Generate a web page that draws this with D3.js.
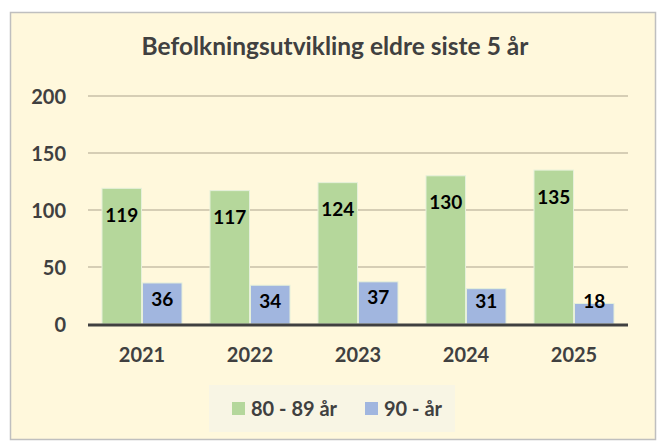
<!DOCTYPE html>
<html><head><meta charset="utf-8">
<script src="https://cdn.jsdelivr.net/npm/d3@7"></script>
<style>body{margin:0;background:#fff}svg{display:block}</style>
</head><body>
<script>
const years = ["2021","2022","2023","2024","2025"];
const seriesNames = ["80 - 89 år","90 - år"];
const age80 = [119,117,124,130,135];
const age90 = [36,34,37,31,18];
const yTicks = [0,50,100,150,200];
const title = "Befolkningsutvikling eldre siste 5 år";

const W=661,H=441;
const font = "Lato, 'Open Sans', sans-serif";
const colors = ["#B5D79B","#A1B6DF"];
const svg = d3.select("body").append("svg").attr("width",W).attr("height",H);
svg.append("rect").attr("x",10.5).attr("y",12.5).attr("width",645).attr("height",427)
  .attr("fill","#FFF8DC").attr("stroke","#BFBFBF").attr("stroke-width",1.5);

const x0 = d3.scaleBand().domain(years).range([88,628]).paddingInner(0.25).paddingOuter(0.125);
const x1 = d3.scaleBand().domain(seriesNames).range([0,x0.bandwidth()]);
const y = d3.scaleLinear().domain([0,200]).range([324,96]);

svg.append("text").attr("x",335).attr("y",55).attr("text-anchor","middle")
  .attr("font-family",font).attr("font-weight","bold").attr("font-size",24.5).attr("fill","#404040").text(title);

// gridlines
svg.append("g").selectAll("line").data(yTicks.filter(d=>d>0)).join("line")
  .attr("x1",88).attr("x2",628).attr("y1",d=>y(d)).attr("y2",d=>y(d))
  .attr("stroke","#C9C0A8").attr("stroke-width",1.3);

// y axis
const yAxis = svg.append("g").attr("transform","translate(66,0)")
  .call(d3.axisLeft(y).tickValues(yTicks).tickSize(0).tickPadding(0));
yAxis.select(".domain").remove();
yAxis.selectAll("text").attr("font-family",font).attr("font-weight","bold").attr("font-size",20).attr("fill","#404040").attr("dy","0.35em");

const data = years.map((yr,i)=>({yr, vals:[age80[i],age90[i]]}));
const g = svg.append("g").selectAll("g").data(data).join("g").attr("transform",d=>`translate(${x0(d.yr)},0)`);
g.selectAll("rect").data(d=>d.vals.map((v,j)=>({v,j}))).join("rect")
  .attr("x",d=>x1(seriesNames[d.j])+0.5).attr("width",x1.bandwidth()-1)
  .attr("y",d=>y(d.v)).attr("height",d=>y(0)-y(d.v))
  .attr("fill",d=>colors[d.j]).attr("stroke","#E6F0DA").attr("stroke-width",1);
g.selectAll("text").data(d=>d.vals.map((v,j)=>({v,j}))).join("text")
  .attr("x",d=>x1(seriesNames[d.j])+x1.bandwidth()/2)
  .attr("y",d=> d.j===0 ? y(d.v)+27 : Math.min(y(d.v)+16, 301))
  .attr("dy","0.35em").attr("text-anchor","middle")
  .attr("font-family",font).attr("font-weight","bold").attr("font-size",19).attr("fill","#000")
  .text(d=>d.v);

// baseline
svg.append("line").attr("x1",88).attr("x2",628).attr("y1",y(0)+1).attr("y2",y(0)+1)
  .attr("stroke","#404040").attr("stroke-width",3);

// x axis
const xAxis = svg.append("g").attr("transform",`translate(0,${y(0)})`)
  .call(d3.axisBottom(x0).tickSize(0).tickPadding(0));
xAxis.select(".domain").remove();
xAxis.selectAll("text").attr("font-family",font).attr("font-weight","bold").attr("font-size",20).attr("fill","#404040")
  .attr("dy",null).attr("y",38);

// legend
svg.append("rect").attr("x",209).attr("y",385).attr("width",246).attr("height",47).attr("fill","#F8F5E4");
const leg = svg.append("g").selectAll("g").data(seriesNames).join("g")
  .attr("transform",(d,i)=>`translate(${[232,365][i]},0)`);
leg.append("rect").attr("x",0).attr("y",402).attr("width",13).attr("height",13).attr("fill",(d,i)=>colors[i]);
leg.append("text").attr("x",19).attr("y",416)
  .attr("font-family",font).attr("font-weight","bold").attr("font-size",20).attr("fill","#404040").text(d=>d);
</script>
</body></html>
